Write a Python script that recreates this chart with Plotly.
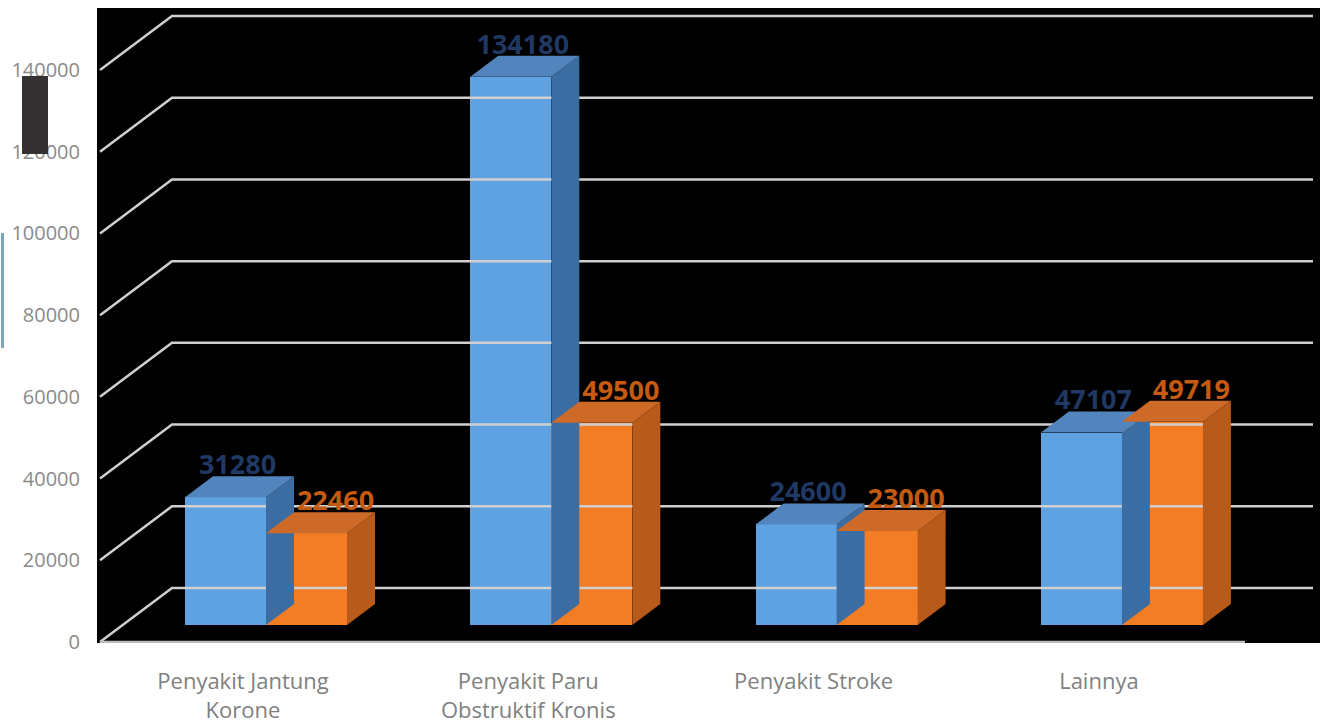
import plotly.graph_objects as go

# ---------------- data ----------------
categories = ["Penyakit Jantung<br>Korone", "Penyakit Paru<br>Obstruktif Kronis",
              "Penyakit Stroke", "Lainnya"]
series_blue = [31280, 134180, 24600, 47107]
series_orange = [22460, 49500, 23000, 49719]
y_ticks = [0, 20000, 40000, 60000, 80000, 100000, 120000, 140000]

# ---------------- geometry (pixel based layout constants) ----------------
W, H = 1327, 727
PX_L, PX_R, PX_T, PX_B = 97, 1320, 8, 643
Y0_PX = 642                      # pixel row of value 0 on the front wall edge
K = 572 / 140000                 # pixels per unit value
GC0, GSTEP = 266, 285.3          # group centre pixel and spacing


def xd(px):
    return (px - GC0) / GSTEP


def yd(py):
    return (Y0_PX - py) / K


xr = [xd(PX_L), xd(PX_R)]
yr = [yd(PX_B), yd(PX_T)]

BW = 81 / GSTEP                 # bar width in x units
DX = 28 / GSTEP                 # depth offset x
DY = 21 / K                     # depth offset y
BASE = 17 / K                   # bar base above front zero line
WALL_DX = 72 / GSTEP
WALL_DY = 54 / K

fig = go.Figure()

# gridlines (3D wall style)
GRID = "#CFCFCF"
for v in y_ticks:
    fig.add_trace(go.Scatter(
        x=[xd(100), xd(100) + WALL_DX, xd(1313)],
        y=[v, v + WALL_DY, v + WALL_DY],
        mode="lines", line=dict(color=GRID, width=2.5),
        hoverinfo="skip", showlegend=False))
# floor front edge
fig.add_trace(go.Scatter(
    x=[xd(100), xd(1245)], y=[0, 0], mode="lines",
    line=dict(color="#BDBDBD", width=2.5), hoverinfo="skip", showlegend=False))

styles = {
    "blue": dict(front="#5EA2E2", top="#5285BD", side="#3B6DA3"),
    "orange": dict(front="#F27D25", top="#CD6A28", side="#B85A1A"),
}


def add_bar(i, val, offset, st, name):
    xc = i + offset
    xl, xrr = xc - BW / 2, xc + BW / 2
    top = BASE + val
    # side face
    fig.add_trace(go.Scatter(
        x=[xrr, xrr + DX, xrr + DX, xrr, xrr],
        y=[BASE, BASE + DY, top + DY, top, BASE],
        fill="toself", fillcolor=st["side"], mode="lines",
        line=dict(width=0, color=st["side"]), hoverinfo="skip", showlegend=False))
    # top face
    fig.add_trace(go.Scatter(
        x=[xl, xl + DX, xrr + DX, xrr, xl],
        y=[top, top + DY, top + DY, top, top],
        fill="toself", fillcolor=st["top"], mode="lines",
        line=dict(width=0, color=st["top"]), hoverinfo="skip", showlegend=False))
    # front face
    fig.add_trace(go.Bar(
        x=[xc], y=[val], base=[BASE], width=[BW],
        marker=dict(color=st["front"], line=dict(width=0)),
        name=name, showlegend=False))


for i in range(len(categories)):
    add_bar(i, series_blue[i], -BW / 2, styles["blue"], "Series 1")
    add_bar(i, series_orange[i], BW / 2, styles["orange"], "Series 2")

# data labels
LBL_OFF = 9 / K
xs_b = [i - BW / 2 + 12 / GSTEP for i in range(len(categories))]
ys_b = [BASE + v + DY + LBL_OFF for v in series_blue]
xs_o = [i + BW / 2 + 29 / GSTEP for i in range(len(categories))]
ys_o = [BASE + v + DY + LBL_OFF for v in series_orange]
fig.add_trace(go.Scatter(
    x=xs_b, y=ys_b, mode="text", text=[str(v) for v in series_blue],
    textfont=dict(family="Open Sans", size=27, color="#203864", weight="bold"),
    textposition="middle center", hoverinfo="skip", showlegend=False))
fig.add_trace(go.Scatter(
    x=xs_o, y=ys_o, mode="text", text=[str(v) for v in series_orange],
    textfont=dict(family="Open Sans", size=27, color="#C55A11", weight="bold"),
    textposition="middle center", hoverinfo="skip", showlegend=False))

fig.update_layout(
    width=W, height=H,
    margin=dict(l=PX_L, r=W - PX_R, t=PX_T, b=H - PX_B, autoexpand=False),
    paper_bgcolor="white", plot_bgcolor="black",
    barmode="overlay", bargap=0,
    showlegend=False,
    xaxis=dict(range=xr, showgrid=False, zeroline=False, showline=False,
               automargin=False,
               tickmode="array",
               tickvals=[i - 23 / GSTEP for i in range(len(categories))],
               ticktext=categories, ticks="",
               tickfont=dict(family="Open Sans", size=22, color="#808080"),
               ticklabelstandoff=23),
    yaxis=dict(range=yr, showgrid=False, zeroline=False, showline=False,
               automargin=False,
               tickmode="array", tickvals=y_ticks,
               ticktext=[str(v) for v in y_ticks], ticks="",
               tickfont=dict(family="Open Sans", size=20, color="#8A8A8A"),
               ticklabelstandoff=16),
    shapes=[
        dict(type="rect", xref="paper", yref="paper", layer="above",
             x0=(22 - PX_L) / (PX_R - PX_L), x1=(48 - PX_L) / (PX_R - PX_L),
             y0=(PX_B - 154) / (PX_B - PX_T), y1=(PX_B - 76) / (PX_B - PX_T),
             fillcolor="#333132", line=dict(width=0)),
        dict(type="rect", xref="paper", yref="paper", layer="above",
             x0=(1 - PX_L) / (PX_R - PX_L), x1=(4 - PX_L) / (PX_R - PX_L),
             y0=(PX_B - 348) / (PX_B - PX_T), y1=(PX_B - 233) / (PX_B - PX_T),
             fillcolor="#7AA6BB", line=dict(width=0)),
    ],
)

fig.write_html("out.html")
